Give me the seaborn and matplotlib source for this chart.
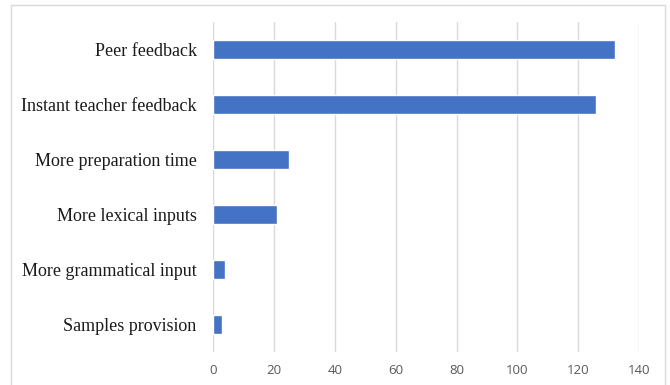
import matplotlib
matplotlib.use("Agg")
import matplotlib.pyplot as plt
from matplotlib.patches import Rectangle
import seaborn as sns
import pandas as pd

# data
categories = ["Peer feedback", "Instant teacher feedback", "More preparation time",
              "More lexical inputs", "More grammatical input", "Samples provision"]
counts = [132, 126, 25, 21, 4, 3]
x_ticks = [0, 20, 40, 60, 80, 100, 120, 140]

df = pd.DataFrame({"category": categories, "count": counts})

sns.set_style("white")

fig = plt.figure(figsize=(6.7, 3.85), dpi=100)
ax = fig.add_axes([213.3 / 670, 1 - 352 / 385, (639 - 213.3) / 670, (352 - 22) / 385])

sns.barplot(data=df, x="count", y="category", orient="h", color="#4472C4",
            width=0.35, saturation=1, ax=ax)

ax.set_xlim(0, 140)
ax.set_xticks(x_ticks)
ax.grid(axis="x", color="#d9d9d9", linewidth=1)
ax.set_axisbelow(True)
for s in ax.spines.values():
    s.set_visible(False)
ax.tick_params(axis="both", length=0)
ax.tick_params(axis="x", pad=9)
ax.tick_params(axis="y", pad=12)
ax.set_xlabel("")
ax.set_ylabel("")

for lbl in ax.get_yticklabels():
    lbl.set_fontfamily("Liberation Serif")
    lbl.set_fontsize(13)
    lbl.set_color("#1a1a1a")
for lbl in ax.get_xticklabels():
    lbl.set_fontfamily("Open Sans")
    lbl.set_fontsize(9.5)
    lbl.set_color("#595959")

# light chart-area border like the spreadsheet export
fig.add_artist(Rectangle((11 / 670, -0.01), (665 - 11) / 670, 1 - 5 / 385 + 0.01,
                         transform=fig.transFigure, fill=False,
                         edgecolor="#d9d9d9", linewidth=1))

fig.savefig("out.png", dpi=100)
